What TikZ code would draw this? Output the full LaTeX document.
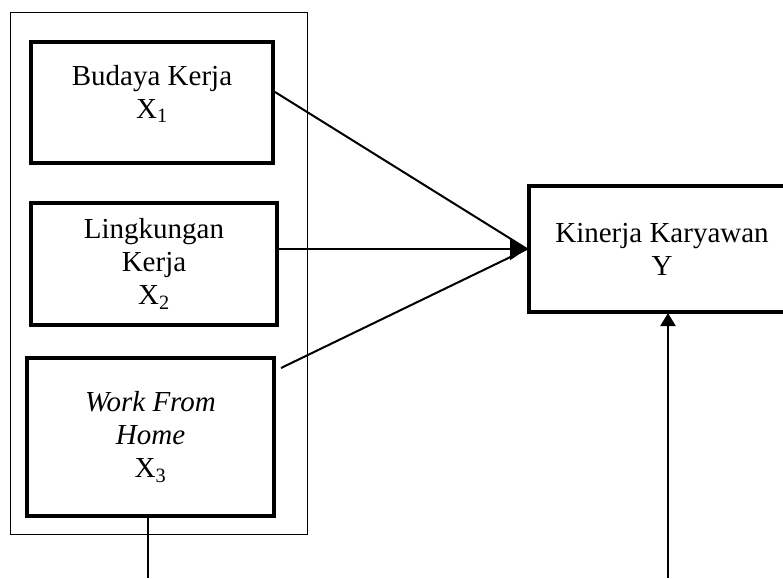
\documentclass[tikz,border=0pt]{standalone}
\usepackage{fontspec}
\setmainfont{Liberation Serif}
\usetikzlibrary{arrows.meta,calc}
\begin{document}
\begin{tikzpicture}[x=1pt,y=-1pt,
  box/.style={draw,line width=4pt,inner sep=0pt,align=center,font=\fontsize{29}{33}\selectfont},
  txt/.style={inner sep=0pt,align=center,font=\fontsize{29}{33}\selectfont},
  conn/.style={line width=2pt}]
\useasboundingbox (0,0) rectangle (783,578);
\node[draw,line width=1pt,minimum width=297pt,minimum height=521pt] (outer) at (158.5,273.5) {};
\node[box,minimum width=242pt,minimum height=121pt] (b1) at (152,102.5) {};
\node[txt] (t1) at (152,94) {Budaya Kerja\\X\textsubscript{1}};
\node[box,minimum width=246pt,minimum height=122pt] (b2) at (154,264) {Lingkungan\\Kerja\\X\textsubscript{2}};
\node[box,minimum width=247pt,minimum height=158pt] (b3) at (150.5,437) {\textit{Work From}\\\textit{Home}\\X\textsubscript{3}};
\node[box,minimum width=266pt,minimum height=126pt] (y) at (662,249) {Kinerja Karyawan\\Y};
\coordinate (s1) at (275,92);
\coordinate (s2) at (278,249);
\coordinate (s3) at (281,368);
\coordinate (v1) at (148,578);
\coordinate (v2) at (668,578);
\coordinate (v2e) at (668,313);
\draw[conn] (s1) -- (y.west);
\draw[conn] (s3) -- (y.west);
\draw[conn,-{Triangle[length=17pt,width=22pt]}] (s2) -- (y.west);
\draw[conn] (b3.south -| v1) -- (v1);
\draw[conn,-{Triangle[length=13pt,width=15pt]}] (v2) -- (v2e);
\end{tikzpicture}
\end{document}
